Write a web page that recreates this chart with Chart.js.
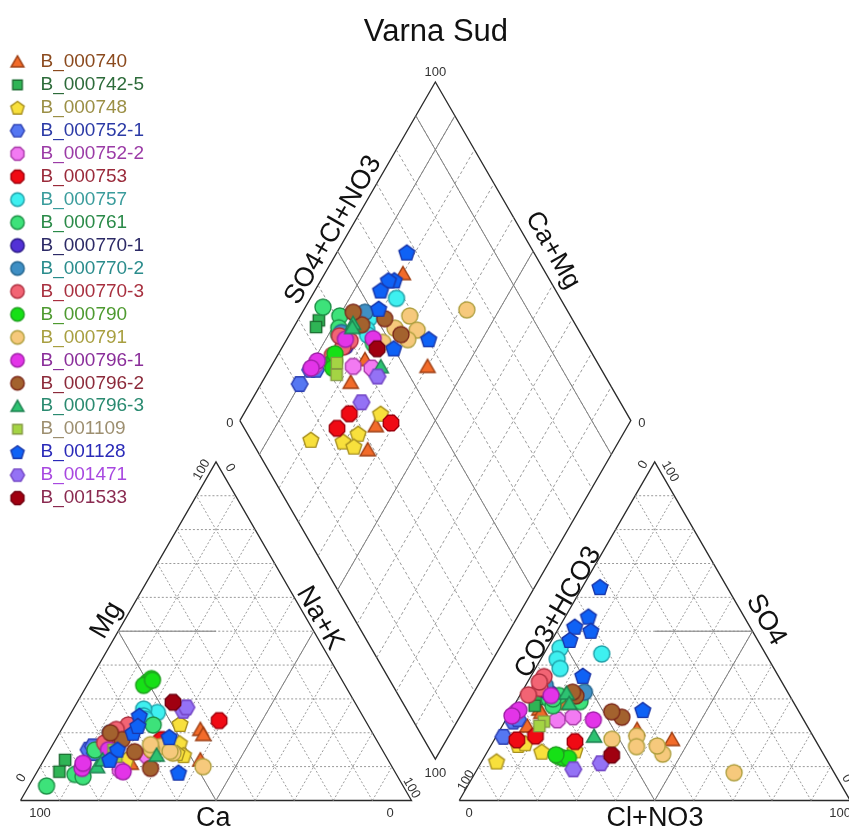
<!DOCTYPE html>
<html>
<head>
<meta charset="utf-8">
<script src="https://cdn.jsdelivr.net/npm/chart.js@4.4.0/dist/chart.umd.min.js"></script>
<style>
  html, body { margin: 0; padding: 0; background: #fff; }
  canvas { display: block; }
</style>
</head>
<body>
<canvas id="piper" width="849" height="831"></canvas>
<script>
// ---- data (% of meq) ----
const sampleNames = ['B_000740', 'B_000742-5', 'B_000748', 'B_000752-1', 'B_000752-2', 'B_000753',
  'B_000757', 'B_000761', 'B_000770-1', 'B_000770-2', 'B_000770-3', 'B_000790', 'B_000791',
  'B_000796-1', 'B_000796-2', 'B_000796-3', 'B_001109', 'B_001128', 'B_001471', 'B_001533'];

// cations: Mg and Na+K, Ca is the rest
const mgPct = [
  [11, 12, 21, 19.5, 11, 14],
  [12, 8.5],
  [22.6, 16.9, 13.4, 12, 14],
  [15, 16, 14],
  [9, 13, 10],
  [23.6, 18, 15],
  [26, 27, 25, 24],
  [4.3, 7.7, 7, 14.9, 22.3],
  [16.9, 18],
  [18, 20],
  [22.3, 19, 21, 17],
  [35, 36, 34, 35.5],
  [10, 16, 14, 14.5, 15, 16.5],
  [8.5, 9.5, 11, 15],
  [9.5, 14.4, 18, 20],
  [10, 13.4, 12],
  [15, 13],
  [25, 20, 15, 12, 22, 8.2, 18.7],
  [26.5, 27.5],
  [29]
];
const naKPct = [
  [20, 40, 35.5, 37, 22.7, 23],
  [5.4, 5.7],
  [29.5, 32.2, 35, 21, 33],
  [9.9, 10.5, 12],
  [21, 26, 11],
  [39, 27, 26],
  [22, 18, 19, 20],
  [4.5, 10.1, 12.5, 11.6, 22.8],
  [14.9, 16],
  [16, 13],
  [16.4, 15.5, 14, 13],
  [15, 15.5, 14.5, 16],
  [41.7, 28, 32, 31, 26, 25],
  [22, 11, 10.5, 15],
  [28.5, 22, 17, 13],
  [14.6, 28.1, 15],
  [16.3, 18],
  [17.9, 18.8, 17.3, 16.8, 19, 36.3, 28.7],
  [28.4, 28.7],
  [24.5]
];
// anions: SO4 and Cl+NO3, CO3+HCO3 is the rest
const so4Pct = [
  [18, 21, 27, 22, 26, 28.7],
  [30, 28],
  [16.4, 14.4, 14.8, 11.5, 16.9],
  [18.8, 23.3, 24],
  [23.8, 24.7, 25.8],
  [17.4, 19, 17.9],
  [43.3, 45, 41.7, 39],
  [30, 31, 28, 30, 29.2],
  [31.7, 33],
  [32, 34],
  [36.6, 33.1, 31.2, 35],
  [13, 12.5, 12.5, 13.5],
  [8.2, 13.7, 16.1, 19, 15.9, 18.1],
  [23.8, 26.7, 25, 31],
  [24.6, 26.2, 30.9, 32],
  [31.7, 19, 28.7],
  [23.3, 22],
  [63, 54.3, 50.1, 51.3, 47.4, 26.7, 36.8],
  [9.2, 11],
  [13.4]
];
const clPct = [
  [45.4, 35, 7, 6.4, 8, 12.3],
  [5, 5.3],
  [6.9, 13.9, 22.2, 3.8, 8.4],
  [1.9, 2.2, 3],
  [13.2, 16.8, 1.4],
  [20.9, 10, 5.8],
  [14.8, 3.3, 4.2, 6.3],
  [8, 10, 10, 9, 16.3],
  [7.2, 5],
  [16, 5],
  [3.4, 4.1, 2.1, 3],
  [19, 20.4, 21.7, 18],
  [66.2, 45.2, 42.6, 35.9, 37.4, 30],
  [22.4, 1.9, 1, 8],
  [29.3, 25.9, 14.4, 13],
  [11.6, 25, 13.8],
  [10, 9.5],
  [4.5, 5.9, 8.6, 3.9, 4.6, 33.6, 13.2],
  [24.6, 30.7],
  [32.3]
];

const chartTitle = 'Varna Sud';
const tickLabels = ['0', '100'];
const cationTitles = ['Ca', 'Mg', 'Na+K'];
const anionTitles = ['CO3+HCO3', 'SO4', 'Cl+NO3'];
const diamondTitles = ['SO4+Cl+NO3', 'Ca+Mg'];

// ---- styles: shape, fill, border, legend text ----
const seriesStyle = [
  ['triangle', '#f26b2a', '#9c3d12', '#8b4a1e'],
  ['square', '#2fb455', '#1b6b30', '#2d6b3a'],
  ['pentagon', '#f8e03c', '#a89020', '#9b8f45'],
  ['hexagon', '#5577f2', '#2a3db0', '#2b3aa6'],
  ['octagon', '#f27af2', '#a83aa8', '#9b3ba6'],
  ['octagon', '#f00a14', '#a0000c', '#9a2a3a'],
  ['circle', '#3ef0f0', '#1fa0a8', '#3a9c9c'],
  ['circle', '#3de27a', '#1f9148', '#2a8a48'],
  ['circle', '#5231d6', '#2a1a86', '#2c2a66'],
  ['circle', '#3f8fc4', '#24658e', '#2a8c8c'],
  ['circle', '#f26474', '#ae3040', '#a8303f'],
  ['circle', '#16e016', '#20a020', '#4e9a30'],
  ['circle', '#f6c97c', '#b0a040', '#a89f40'],
  ['circle', '#e334e8', '#a020a8', '#8a2e9a'],
  ['circle', '#a3622e', '#7d2a1c', '#8c2a3a'],
  ['triangle', '#2dc271', '#1d8050', '#2a8a70'],
  ['square', '#a4d444', '#849a40', '#9d8f70'],
  ['pentagon', '#0f62f5', '#1a36a8', '#2a2ab8'],
  ['hexagon', '#9472f5', '#7042c2', '#a848e0'],
  ['octagon', '#a00010', '#700010', '#8a2a50']
];
const FONT = '"Liberation Sans", Arial, sans-serif';

function marker(shape, fill, stroke, d) {
  const c = document.createElement('canvas');
  c.width = c.height = Math.ceil(d + 4);
  const g = c.getContext('2d');
  const cx = c.width / 2, cy = c.height / 2, r = d / 2;
  g.beginPath();
  if (shape === 'circle') {
    g.arc(cx, cy, r, 0, Math.PI * 2);
  } else {
    const sides = {triangle: 3, square: 4, pentagon: 5, hexagon: 6, octagon: 8}[shape];
    const start = {triangle: -90, square: -45, pentagon: -90, hexagon: 0, octagon: 22.5}[shape];
    const rr = shape === 'square' ? r * 1.0 : shape === 'triangle' ? r * 1.1 : r * 1.04;
    const shift = shape === 'triangle' ? r * 0.2 : shape === 'pentagon' ? r * 0.08 : 0;
    for (let k = 0; k < sides; k++) {
      const a = (start + k * 360 / sides) * Math.PI / 180;
      g.lineTo(cx + rr * Math.cos(a), cy + shift + rr * Math.sin(a));
    }
  }
  g.closePath();
  g.fillStyle = fill;
  g.fill();
  g.lineWidth = 1.4;
  g.strokeStyle = stroke;
  g.stroke();
  return c;
}

// ---- Piper geometry (triangle side = 100) ----
const H = Math.sqrt(3) / 2;
const GAP = 12.2;
const triPt = (off, top, right) => ({x: off + right + top / 2, y: H * top});
const dPt = (n, s) => ({x: (n + 100 + GAP + s) / 2, y: H * (100 + GAP + s - n)});
const R0 = 100 + GAP;

const dotSegs = [], dashSegs = [], faciesSegs = [], frameSegs = [];
for (let v = 10; v < 100; v += 10) {
  for (const off of [0, R0]) {
    dotSegs.push([triPt(off, v, 0), triPt(off, v, 100 - v)]);
    dotSegs.push([triPt(off, 0, v), triPt(off, 100 - v, v)]);
    dotSegs.push([triPt(off, 0, 100 - v), triPt(off, 100 - v, 0)]);
  }
  dashSegs.push([dPt(v, 0), dPt(v, 100)]);
  dashSegs.push([dPt(0, v), dPt(100, v)]);
}
faciesSegs.push([triPt(0, 50, 0), triPt(0, 50, 25)]);
faciesSegs.push([triPt(0, 0, 50), triPt(0, 50, 0)]);
faciesSegs.push([triPt(0, 0, 50), triPt(0, 50, 50)]);
faciesSegs.push([triPt(R0, 50, 25), triPt(R0, 50, 50)]);
faciesSegs.push([triPt(R0, 0, 50), triPt(R0, 50, 0)]);
faciesSegs.push([triPt(R0, 0, 50), triPt(R0, 50, 50)]);
for (const v of [10, 50]) faciesSegs.push([dPt(v, 0), dPt(v, 100)]);
for (const v of [50, 90]) faciesSegs.push([dPt(0, v), dPt(100, v)]);
for (const off of [0, R0]) {
  frameSegs.push([triPt(off, 0, 0), triPt(off, 0, 100), triPt(off, 100, 0), triPt(off, 0, 0)]);
}
frameSegs.push([dPt(0, 0), dPt(100, 0), dPt(100, 100), dPt(0, 100), dPt(0, 0)]);

function lineSets(segs, color, width, dash) {
  return segs.map(seg => ({
    data: seg, showLine: true, borderColor: color, borderWidth: width, borderDash: dash,
    pointRadius: 0, order: 100, grid: true
  }));
}

const plotMarkers = seriesStyle.map(s => marker(s[0], s[1], s[2], 16));
const legendMarkers = seriesStyle.map(s => marker(s[0], s[1], s[2], 13.5));

const sampleSets = sampleNames.map((name, i) => {
  const pts = [];
  mgPct[i].forEach((m, k) => {
    const n = naKPct[i][k], s = so4Pct[i][k], c = clPct[i][k];
    pts.push(triPt(0, m, n), triPt(R0, s, c), dPt(n, s + c));
  });
  return {label: name, data: pts, pointStyle: plotMarkers[i], pointRadius: 7, order: -i, showLine: false};
});

// ---- text ----
const mid = (a, b) => ({x: (a.x + b.x) / 2, y: (a.y + b.y) / 2});
const V = {
  LBL: triPt(0, 0, 0), LBR: triPt(0, 0, 100), LAP: triPt(0, 100, 0),
  RBL: triPt(R0, 0, 0), RBR: triPt(R0, 0, 100), RAP: triPt(R0, 100, 0),
  DL: dPt(0, 0), DB: dPt(100, 0), DR: dPt(100, 100), DT: dPt(0, 100)
};
const [T0, T100] = tickLabels;
const textItems = [
  [T100, V.LBL, 19.5, 12.5, 0, 13], [T0, V.LBR, -21.5, 12.5, 0, 13],
  [T0, V.LBL, 1, -22.5, -60, 13], [T100, V.LAP, -14.3, 8, -60, 13],
  [T0, V.LAP, 14, 6, 60, 13], [T100, V.LBR, 0, -12.5, 60, 13],
  [T0, V.RBL, 10, 13, 0, 13], [T100, V.RBR, -10, 13, 0, 13],
  [T100, V.RBL, 7, -20, -60, 13], [T0, V.RAP, -11.4, 3, -60, 13],
  [T100, V.RAP, 15.3, 9.8, 60, 13], [T0, V.RBR, -3.5, -22, 60, 13],
  [T100, V.DT, 0, -10, 0, 13], [T0, V.DL, -10, 3, 0, 13],
  [T0, V.DR, 11, 3, 0, 13], [T100, V.DB, 0, 14, 0, 13],
  [cationTitles[0], mid(V.LBL, V.LBR), -2.7, 18, 0, 27],
  [cationTitles[1], mid(V.LBL, V.LAP), -11.5, -11, -60, 27],
  [cationTitles[2], mid(V.LBR, V.LAP), 6, -13, 60, 27],
  [anionTitles[0], mid(V.RBL, V.RAP), 1.3, -18.7, -60, 27],
  [anionTitles[1], mid(V.RBR, V.RAP), 13.4, -11.2, 60, 27],
  [anionTitles[2], mid(V.RBL, V.RBR), 0.3, 18, 0, 27],
  [diamondTitles[0], mid(V.DL, V.DT), -4.3, -21, -60, 27],
  [diamondTitles[1], mid(V.DT, V.DR), 19.4, -1, 60, 26],
  [chartTitle, V.DT, 0.6, -50, 0, 31]
];

const textPlugin = {
  id: 'piperText',
  afterDraw(chart) {
    const {ctx, scales: {x, y}} = chart;
    textItems.forEach(([text, pt, dx, dy, rot, size]) => {
      ctx.save();
      ctx.translate(x.getPixelForValue(pt.x) + dx, y.getPixelForValue(pt.y) + dy);
      ctx.rotate(rot * Math.PI / 180);
      ctx.font = size + 'px ' + FONT;
      ctx.fillStyle = size > 20 ? '#111' : '#333';
      ctx.textAlign = 'center';
      ctx.textBaseline = 'middle';
      ctx.fillText(text, 0, 0);
      ctx.restore();
    });
  }
};

// pixel scale: 3.91 px per unit, origin of the cation triangle at (20.5, 800.5)
const PX = 3.91, OX = 20.5, OY = 800.5, W = 849, HT = 831;

Chart.defaults.font.family = FONT;
new Chart(document.getElementById('piper'), {
  type: 'scatter',
  data: {
    datasets: [
      ...lineSets(dotSegs, '#8f8f8f', 0.9, [2, 2]),
      ...lineSets(dashSegs, '#8f8f8f', 0.9, [3, 2.5]),
      ...lineSets(faciesSegs, '#777', 1, []),
      ...lineSets(frameSegs, '#2a2a2a', 1.3, []),
      ...sampleSets
    ]
  },
  options: {
    responsive: false,
    animation: false,
    events: [],
    layout: {padding: 0, autoPadding: false},
    scales: {
      x: {type: 'linear', display: false, min: -OX / PX, max: (W - OX) / PX},
      y: {type: 'linear', display: false, min: -(HT - OY) / PX, max: OY / PX}
    },
    plugins: {
      title: {display: false},
      tooltip: {enabled: false},
      legend: {
        position: 'chartArea',
        align: 'start',
        fullSize: false,
        title: {display: true, text: '', font: {size: 12}, padding: {top: 34, bottom: 0}},
        labels: {
          usePointStyle: true,
          pointStyleWidth: 27,
          padding: 3.96,
          font: {size: 19},
          generateLabels: () => sampleNames.map((name, i) => ({
            text: name,
            fontColor: seriesStyle[i][3],
            pointStyle: legendMarkers[i],
            fillStyle: seriesStyle[i][1],
            strokeStyle: seriesStyle[i][2],
            lineWidth: 0,
            hidden: false,
            datasetIndex: i
          }))
        }
      }
    }
  },
  plugins: [textPlugin]
});
</script>
</body>
</html>
